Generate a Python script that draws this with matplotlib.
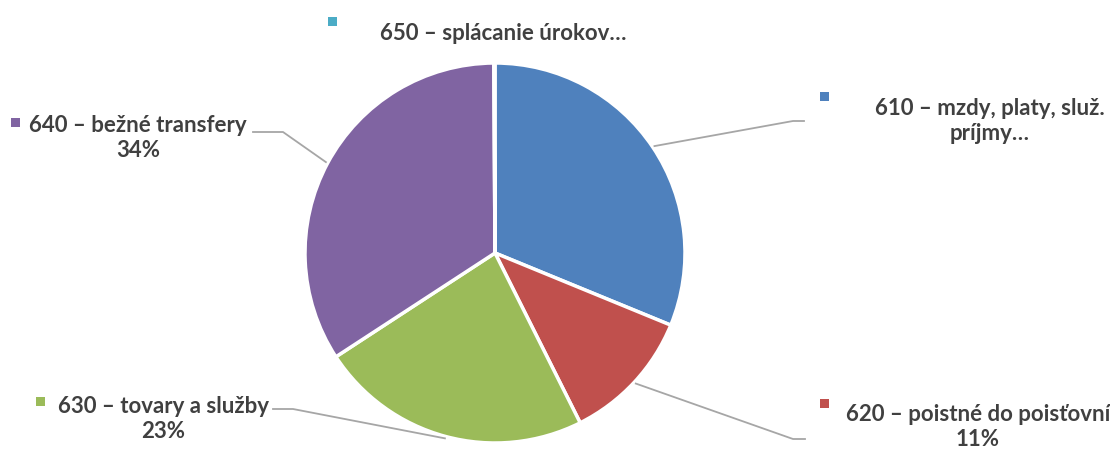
import numpy as np
import matplotlib
matplotlib.use('Agg')
import matplotlib.pyplot as plt

# slice data (clockwise from 12 o'clock)
categories = ['610 – mzdy, platy, služ.\npríjmy…', '620 – poistné do poisťovní',
              '630 – tovary a služby', '640 – bežné transfery', '650 – splácanie úrokov…']
values = [31.2, 11.4, 23.2, 34.1, 0.1]
pct_labels = ['', '11%', '23%', '34%', '']
colors = ['#4F81BD', '#C0504D', '#9BBB59', '#8064A2', '#4BACC6']

W, H = 1110, 450
fig = plt.figure(figsize=(W / 100, H / 100), dpi=100)
ax = fig.add_axes([0, 0, 1, 1])

cx, cy, r = 495, 253, 190
# y axis points down, so counterclock=True shows up clockwise on screen
wedges, _ = ax.pie(values, colors=colors, startangle=-90, counterclock=True,
                   center=(cx, cy), radius=r,
                   wedgeprops=dict(edgecolor='white', linewidth=2.5))
ax.set_xlim(0, W)
ax.set_ylim(H, 0)
ax.set_aspect('equal')
ax.axis('off')

txt = dict(fontfamily='Lato', fontweight='bold', fontsize=16, color='#404040',
           ha='center', va='center')

# label layout: (text x, text y, marker x, marker y, leader elbow)
layout = [
    (990, 121, 824, 96, [(804, 121), (793, 121)]),
    (978, 427, 824, 403, [(805, 439), (793, 439)]),
    (163, 419, 40, 401, [(273, 409), (293, 409)]),
    (138, 138, 15, 122, [(253, 132), (283, 132)]),
    (503, 33, 332, 21, None),
]

for i, w in enumerate(wedges):
    tx, ty, mx, my, path = layout[i]
    lab = categories[i]
    if pct_labels[i]:
        lab = lab + '\n' + pct_labels[i]
    ax.text(tx, ty, lab, linespacing=1.25, **txt)
    ax.add_patch(matplotlib.patches.Rectangle((mx - 4.5, my - 4.5), 9, 9,
                                              color=colors[i], lw=0))
    if path is not None:
        ang = np.deg2rad((w.theta1 + w.theta2) / 2)
        ex, ey = cx + (r + 2) * np.cos(ang), cy + (r + 2) * np.sin(ang)
        xs = [p[0] for p in path] + [ex]
        ys = [p[1] for p in path] + [ey]
        ax.plot(xs, ys, color='#A6A6A6', lw=1.3)

fig.savefig('out.png', dpi=100)
